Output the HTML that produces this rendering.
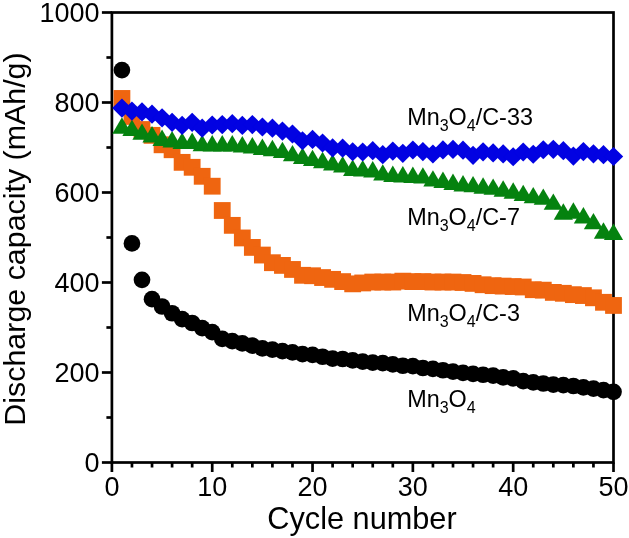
<!DOCTYPE html>
<html><head><meta charset="utf-8"><style>
html,body{margin:0;padding:0;background:#fff;}
svg{display:block;font-family:"Liberation Sans",sans-serif;will-change:transform;}
</style></head><body>
<svg width="629" height="538" viewBox="0 0 629 538">
<rect width="629" height="538" fill="#fff"/>
<g stroke-linecap="butt"><rect x="111.9" y="12.5" width="501.6" height="450.0" fill="none" stroke="#000" stroke-width="2.7"/><line x1="101.90" y1="462.50" x2="111.9" y2="462.50" stroke="#000" stroke-width="2.7"/><line x1="106.40" y1="417.50" x2="111.9" y2="417.50" stroke="#000" stroke-width="2.7"/><line x1="101.90" y1="372.50" x2="111.9" y2="372.50" stroke="#000" stroke-width="2.7"/><line x1="106.40" y1="327.50" x2="111.9" y2="327.50" stroke="#000" stroke-width="2.7"/><line x1="101.90" y1="282.50" x2="111.9" y2="282.50" stroke="#000" stroke-width="2.7"/><line x1="106.40" y1="237.50" x2="111.9" y2="237.50" stroke="#000" stroke-width="2.7"/><line x1="101.90" y1="192.50" x2="111.9" y2="192.50" stroke="#000" stroke-width="2.7"/><line x1="106.40" y1="147.50" x2="111.9" y2="147.50" stroke="#000" stroke-width="2.7"/><line x1="101.90" y1="102.50" x2="111.9" y2="102.50" stroke="#000" stroke-width="2.7"/><line x1="106.40" y1="57.50" x2="111.9" y2="57.50" stroke="#000" stroke-width="2.7"/><line x1="101.90" y1="12.50" x2="111.9" y2="12.50" stroke="#000" stroke-width="2.7"/><line x1="111.90" y1="462.5" x2="111.90" y2="472.00" stroke="#000" stroke-width="2.7"/><line x1="131.96" y1="462.5" x2="131.96" y2="467.50" stroke="#000" stroke-width="2.7"/><line x1="152.03" y1="462.5" x2="152.03" y2="467.50" stroke="#000" stroke-width="2.7"/><line x1="172.09" y1="462.5" x2="172.09" y2="467.50" stroke="#000" stroke-width="2.7"/><line x1="192.16" y1="462.5" x2="192.16" y2="467.50" stroke="#000" stroke-width="2.7"/><line x1="212.22" y1="462.5" x2="212.22" y2="472.00" stroke="#000" stroke-width="2.7"/><line x1="232.28" y1="462.5" x2="232.28" y2="467.50" stroke="#000" stroke-width="2.7"/><line x1="252.35" y1="462.5" x2="252.35" y2="467.50" stroke="#000" stroke-width="2.7"/><line x1="272.41" y1="462.5" x2="272.41" y2="467.50" stroke="#000" stroke-width="2.7"/><line x1="292.48" y1="462.5" x2="292.48" y2="467.50" stroke="#000" stroke-width="2.7"/><line x1="312.54" y1="462.5" x2="312.54" y2="472.00" stroke="#000" stroke-width="2.7"/><line x1="332.60" y1="462.5" x2="332.60" y2="467.50" stroke="#000" stroke-width="2.7"/><line x1="352.67" y1="462.5" x2="352.67" y2="467.50" stroke="#000" stroke-width="2.7"/><line x1="372.73" y1="462.5" x2="372.73" y2="467.50" stroke="#000" stroke-width="2.7"/><line x1="392.80" y1="462.5" x2="392.80" y2="467.50" stroke="#000" stroke-width="2.7"/><line x1="412.86" y1="462.5" x2="412.86" y2="472.00" stroke="#000" stroke-width="2.7"/><line x1="432.92" y1="462.5" x2="432.92" y2="467.50" stroke="#000" stroke-width="2.7"/><line x1="452.99" y1="462.5" x2="452.99" y2="467.50" stroke="#000" stroke-width="2.7"/><line x1="473.05" y1="462.5" x2="473.05" y2="467.50" stroke="#000" stroke-width="2.7"/><line x1="493.12" y1="462.5" x2="493.12" y2="467.50" stroke="#000" stroke-width="2.7"/><line x1="513.18" y1="462.5" x2="513.18" y2="472.00" stroke="#000" stroke-width="2.7"/><line x1="533.24" y1="462.5" x2="533.24" y2="467.50" stroke="#000" stroke-width="2.7"/><line x1="553.31" y1="462.5" x2="553.31" y2="467.50" stroke="#000" stroke-width="2.7"/><line x1="573.37" y1="462.5" x2="573.37" y2="467.50" stroke="#000" stroke-width="2.7"/><line x1="593.44" y1="462.5" x2="593.44" y2="467.50" stroke="#000" stroke-width="2.7"/><line x1="613.50" y1="462.5" x2="613.50" y2="472.00" stroke="#000" stroke-width="2.7"/></g>
<g fill="#000"><circle cx="121.93" cy="70.10" r="8.35"/><circle cx="131.96" cy="243.44" r="8.35"/><circle cx="142.00" cy="279.80" r="8.35"/><circle cx="152.03" cy="299.15" r="8.35"/><circle cx="162.06" cy="306.49" r="8.35"/><circle cx="172.09" cy="313.24" r="8.35"/><circle cx="182.12" cy="319.04" r="8.35"/><circle cx="192.16" cy="323.00" r="8.35"/><circle cx="202.19" cy="328.04" r="8.35"/><circle cx="212.22" cy="332.09" r="8.35"/><circle cx="222.25" cy="338.84" r="8.35"/><circle cx="232.28" cy="341.09" r="8.35"/><circle cx="242.32" cy="343.34" r="8.35"/><circle cx="252.35" cy="345.63" r="8.35"/><circle cx="262.38" cy="348.33" r="8.35"/><circle cx="272.41" cy="349.69" r="8.35"/><circle cx="282.44" cy="351.03" r="8.35"/><circle cx="292.48" cy="352.38" r="8.35"/><circle cx="302.51" cy="354.05" r="8.35"/><circle cx="312.54" cy="354.95" r="8.35"/><circle cx="322.57" cy="356.75" r="8.35"/><circle cx="332.60" cy="358.55" r="8.35"/><circle cx="342.64" cy="359.00" r="8.35"/><circle cx="352.67" cy="360.35" r="8.35"/><circle cx="362.70" cy="361.70" r="8.35"/><circle cx="372.73" cy="362.60" r="8.35"/><circle cx="382.76" cy="363.05" r="8.35"/><circle cx="392.80" cy="364.40" r="8.35"/><circle cx="402.83" cy="365.75" r="8.35"/><circle cx="412.86" cy="366.20" r="8.35"/><circle cx="422.89" cy="368.00" r="8.35"/><circle cx="432.92" cy="368.90" r="8.35"/><circle cx="442.96" cy="370.25" r="8.35"/><circle cx="452.99" cy="371.60" r="8.35"/><circle cx="463.02" cy="372.95" r="8.35"/><circle cx="473.05" cy="373.85" r="8.35"/><circle cx="483.08" cy="374.75" r="8.35"/><circle cx="493.12" cy="375.65" r="8.35"/><circle cx="503.15" cy="377.45" r="8.35"/><circle cx="513.18" cy="378.35" r="8.35"/><circle cx="523.21" cy="381.05" r="8.35"/><circle cx="533.24" cy="382.40" r="8.35"/><circle cx="543.28" cy="383.52" r="8.35"/><circle cx="553.31" cy="384.65" r="8.35"/><circle cx="563.34" cy="385.10" r="8.35"/><circle cx="573.37" cy="386.00" r="8.35"/><circle cx="583.40" cy="387.35" r="8.35"/><circle cx="593.44" cy="388.70" r="8.35"/><circle cx="603.47" cy="390.05" r="8.35"/><circle cx="613.50" cy="391.85" r="8.35"/></g>
<g fill="#EF6510"><rect x="113.53" y="90.05" width="16.8" height="16.8"/><rect x="123.56" y="108.05" width="16.8" height="16.8"/><rect x="133.60" y="121.10" width="16.8" height="16.8"/><rect x="143.63" y="126.95" width="16.8" height="16.8"/><rect x="153.66" y="136.40" width="16.8" height="16.8"/><rect x="163.69" y="141.35" width="16.8" height="16.8"/><rect x="173.72" y="153.95" width="16.8" height="16.8"/><rect x="183.76" y="158.90" width="16.8" height="16.8"/><rect x="193.79" y="167.90" width="16.8" height="16.8"/><rect x="203.82" y="177.80" width="16.8" height="16.8"/><rect x="213.85" y="202.10" width="16.8" height="16.8"/><rect x="223.88" y="216.95" width="16.8" height="16.8"/><rect x="233.92" y="229.55" width="16.8" height="16.8"/><rect x="243.95" y="239.00" width="16.8" height="16.8"/><rect x="253.98" y="246.65" width="16.8" height="16.8"/><rect x="264.01" y="254.30" width="16.8" height="16.8"/><rect x="274.04" y="257.00" width="16.8" height="16.8"/><rect x="284.08" y="261.05" width="16.8" height="16.8"/><rect x="294.11" y="266.90" width="16.8" height="16.8"/><rect x="304.14" y="267.35" width="16.8" height="16.8"/><rect x="314.17" y="269.15" width="16.8" height="16.8"/><rect x="324.20" y="270.95" width="16.8" height="16.8"/><rect x="334.24" y="273.20" width="16.8" height="16.8"/><rect x="344.27" y="275.45" width="16.8" height="16.8"/><rect x="354.30" y="274.55" width="16.8" height="16.8"/><rect x="364.33" y="273.65" width="16.8" height="16.8"/><rect x="374.36" y="273.65" width="16.8" height="16.8"/><rect x="384.40" y="273.65" width="16.8" height="16.8"/><rect x="394.43" y="272.75" width="16.8" height="16.8"/><rect x="404.46" y="273.20" width="16.8" height="16.8"/><rect x="414.49" y="273.20" width="16.8" height="16.8"/><rect x="424.52" y="273.65" width="16.8" height="16.8"/><rect x="434.56" y="273.65" width="16.8" height="16.8"/><rect x="444.59" y="273.65" width="16.8" height="16.8"/><rect x="454.62" y="274.10" width="16.8" height="16.8"/><rect x="464.65" y="275.00" width="16.8" height="16.8"/><rect x="474.68" y="276.35" width="16.8" height="16.8"/><rect x="484.72" y="277.25" width="16.8" height="16.8"/><rect x="494.75" y="277.70" width="16.8" height="16.8"/><rect x="504.78" y="278.15" width="16.8" height="16.8"/><rect x="514.81" y="278.60" width="16.8" height="16.8"/><rect x="524.84" y="281.30" width="16.8" height="16.8"/><rect x="534.88" y="281.75" width="16.8" height="16.8"/><rect x="544.91" y="284.00" width="16.8" height="16.8"/><rect x="554.94" y="284.90" width="16.8" height="16.8"/><rect x="564.97" y="286.25" width="16.8" height="16.8"/><rect x="575.00" y="287.15" width="16.8" height="16.8"/><rect x="585.04" y="289.40" width="16.8" height="16.8"/><rect x="595.07" y="293.90" width="16.8" height="16.8"/><rect x="605.10" y="297.05" width="16.8" height="16.8"/></g>
<g fill="#05820F"><path d="M121.93 117.30L131.53 133.70L112.33 133.70Z"/><path d="M131.96 119.70L141.56 136.10L122.36 136.10Z"/><path d="M142.00 123.40L151.60 139.80L132.40 139.80Z"/><path d="M152.03 126.00L161.63 142.40L142.43 142.40Z"/><path d="M162.06 129.60L171.66 146.00L152.46 146.00Z"/><path d="M172.09 131.10L181.69 147.50L162.49 147.50Z"/><path d="M182.12 132.60L191.72 149.00L172.52 149.00Z"/><path d="M192.16 132.60L201.76 149.00L182.56 149.00Z"/><path d="M202.19 134.80L211.79 151.20L192.59 151.20Z"/><path d="M212.22 135.10L221.82 151.50L202.62 151.50Z"/><path d="M222.25 135.00L231.85 151.40L212.65 151.40Z"/><path d="M232.28 135.00L241.88 151.40L222.68 151.40Z"/><path d="M242.32 136.00L251.92 152.40L232.72 152.40Z"/><path d="M252.35 137.00L261.95 153.40L242.75 153.40Z"/><path d="M262.38 138.50L271.98 154.90L252.78 154.90Z"/><path d="M272.41 139.80L282.01 156.20L262.81 156.20Z"/><path d="M282.44 141.70L292.04 158.10L272.84 158.10Z"/><path d="M292.48 144.90L302.08 161.30L282.88 161.30Z"/><path d="M302.51 147.50L312.11 163.90L292.91 163.90Z"/><path d="M312.54 149.70L322.14 166.10L302.94 166.10Z"/><path d="M322.57 151.80L332.17 168.20L312.97 168.20Z"/><path d="M332.60 154.00L342.20 170.40L323.00 170.40Z"/><path d="M342.64 156.10L352.24 172.50L333.04 172.50Z"/><path d="M352.67 159.60L362.27 176.00L343.07 176.00Z"/><path d="M362.70 160.10L372.30 176.50L353.10 176.50Z"/><path d="M372.73 161.10L382.33 177.50L363.13 177.50Z"/><path d="M382.76 164.20L392.36 180.60L373.16 180.60Z"/><path d="M392.80 165.60L402.40 182.00L383.20 182.00Z"/><path d="M402.83 166.00L412.43 182.40L393.23 182.40Z"/><path d="M412.86 166.60L422.46 183.00L403.26 183.00Z"/><path d="M422.89 167.20L432.49 183.60L413.29 183.60Z"/><path d="M432.92 170.20L442.52 186.60L423.32 186.60Z"/><path d="M442.96 171.60L452.56 188.00L433.36 188.00Z"/><path d="M452.99 173.50L462.59 189.90L443.39 189.90Z"/><path d="M463.02 175.00L472.62 191.40L453.42 191.40Z"/><path d="M473.05 175.90L482.65 192.30L463.45 192.30Z"/><path d="M483.08 177.30L492.68 193.70L473.48 193.70Z"/><path d="M493.12 178.40L502.72 194.80L483.52 194.80Z"/><path d="M503.15 180.30L512.75 196.70L493.55 196.70Z"/><path d="M513.18 182.30L522.78 198.70L503.58 198.70Z"/><path d="M523.21 184.70L532.81 201.10L513.61 201.10Z"/><path d="M533.24 186.90L542.84 203.30L523.64 203.30Z"/><path d="M543.28 188.40L552.88 204.80L533.68 204.80Z"/><path d="M553.31 193.40L562.91 209.80L543.71 209.80Z"/><path d="M563.34 203.30L572.94 219.70L553.74 219.70Z"/><path d="M573.37 202.30L582.97 218.70L563.77 218.70Z"/><path d="M583.40 207.00L593.00 223.40L573.80 223.40Z"/><path d="M593.44 212.90L603.04 229.30L583.84 229.30Z"/><path d="M603.47 222.30L613.07 238.70L593.87 238.70Z"/><path d="M613.50 223.60L623.10 240.00L603.90 240.00Z"/></g>
<g fill="#0202E2"><path d="M121.93 98.44L131.63 108.04L121.93 117.64L112.23 108.04Z"/><path d="M131.96 101.45L141.66 111.05L131.96 120.65L122.26 111.05Z"/><path d="M142.00 102.35L151.70 111.95L142.00 121.55L132.30 111.95Z"/><path d="M152.03 104.60L161.73 114.20L152.03 123.80L142.33 114.20Z"/><path d="M162.06 108.20L171.76 117.80L162.06 127.40L152.36 117.80Z"/><path d="M172.09 112.70L181.79 122.30L172.09 131.90L162.39 122.30Z"/><path d="M182.12 115.85L191.82 125.45L182.12 135.05L172.42 125.45Z"/><path d="M192.16 112.70L201.86 122.30L192.16 131.90L182.46 122.30Z"/><path d="M202.19 118.55L211.89 128.15L202.19 137.75L192.49 128.15Z"/><path d="M212.22 115.40L221.92 125.00L212.22 134.60L202.52 125.00Z"/><path d="M222.25 114.95L231.95 124.55L222.25 134.15L212.55 124.55Z"/><path d="M232.28 114.05L241.98 123.65L232.28 133.25L222.58 123.65Z"/><path d="M242.32 115.85L252.02 125.45L242.32 135.05L232.62 125.45Z"/><path d="M252.35 114.95L262.05 124.55L252.35 134.15L242.65 124.55Z"/><path d="M262.38 117.42L272.08 127.02L262.38 136.62L252.68 127.02Z"/><path d="M272.41 118.55L282.11 128.15L272.41 137.75L262.71 128.15Z"/><path d="M282.44 121.47L292.14 131.07L282.44 140.67L272.74 131.07Z"/><path d="M292.48 124.40L302.18 134.00L292.48 143.60L282.78 134.00Z"/><path d="M302.51 131.15L312.21 140.75L302.51 150.35L292.81 140.75Z"/><path d="M312.54 129.80L322.24 139.40L312.54 149.00L302.84 139.40Z"/><path d="M322.57 133.40L332.27 143.00L322.57 152.60L312.87 143.00Z"/><path d="M332.60 138.35L342.30 147.95L332.60 157.55L322.90 147.95Z"/><path d="M342.64 138.53L352.34 148.13L342.64 157.73L332.94 148.13Z"/><path d="M352.67 142.13L362.37 151.73L352.67 161.33L342.97 151.73Z"/><path d="M362.70 142.40L372.40 152.00L362.70 161.60L353.00 152.00Z"/><path d="M372.73 141.05L382.43 150.65L372.73 160.25L363.03 150.65Z"/><path d="M382.76 145.10L392.46 154.70L382.76 164.30L373.06 154.70Z"/><path d="M392.80 141.50L402.50 151.10L392.80 160.70L383.10 151.10Z"/><path d="M402.83 143.75L412.53 153.35L402.83 162.95L393.13 153.35Z"/><path d="M412.86 140.42L422.56 150.02L412.86 159.62L403.16 150.02Z"/><path d="M422.89 141.95L432.59 151.55L422.89 161.15L413.19 151.55Z"/><path d="M432.92 144.38L442.62 153.98L432.92 163.58L423.22 153.98Z"/><path d="M442.96 140.28L452.66 149.88L442.96 159.48L433.26 149.88Z"/><path d="M452.99 139.79L462.69 149.39L452.99 158.99L443.29 149.39Z"/><path d="M463.02 140.60L472.72 150.20L463.02 159.80L453.32 150.20Z"/><path d="M473.05 145.69L482.75 155.29L473.05 164.89L463.35 155.29Z"/><path d="M483.08 142.22L492.78 151.82L483.08 161.42L473.38 151.82Z"/><path d="M493.12 143.30L502.82 152.90L493.12 162.50L483.42 152.90Z"/><path d="M503.15 144.29L512.85 153.89L503.15 163.49L493.45 153.89Z"/><path d="M513.18 147.13L522.88 156.73L513.18 166.33L503.48 156.73Z"/><path d="M523.21 142.40L532.91 152.00L523.21 161.60L513.51 152.00Z"/><path d="M533.24 144.65L542.94 154.25L533.24 163.85L523.54 154.25Z"/><path d="M543.28 140.15L552.98 149.75L543.28 159.35L533.58 149.75Z"/><path d="M553.31 139.70L563.01 149.30L553.31 158.90L543.61 149.30Z"/><path d="M563.34 141.05L573.04 150.65L563.34 160.25L553.64 150.65Z"/><path d="M573.37 146.45L583.07 156.05L573.37 165.65L563.67 156.05Z"/><path d="M583.40 141.95L593.10 151.55L583.40 161.15L573.70 151.55Z"/><path d="M593.44 144.20L603.14 153.80L593.44 163.40L583.74 153.80Z"/><path d="M603.47 145.10L613.17 154.70L603.47 164.30L593.77 154.70Z"/><path d="M613.50 146.90L623.20 156.50L613.50 166.10L603.80 156.50Z"/></g>
<g font-size="27"><text x="99.5" y="471.50" text-anchor="end">0</text><text x="99.5" y="381.50" text-anchor="end">200</text><text x="99.5" y="291.50" text-anchor="end">400</text><text x="99.5" y="201.50" text-anchor="end">600</text><text x="99.5" y="111.50" text-anchor="end">800</text><text x="99.5" y="21.50" text-anchor="end">1000</text><text x="111.90" y="496" text-anchor="middle">0</text><text x="212.22" y="496" text-anchor="middle">10</text><text x="312.54" y="496" text-anchor="middle">20</text><text x="412.86" y="496" text-anchor="middle">30</text><text x="513.18" y="496" text-anchor="middle">40</text><text x="613.50" y="496" text-anchor="middle">50</text></g>
<text x="407.2" y="124.7" font-size="23.4">Mn<tspan font-size="16" dy="6.3">3</tspan><tspan dy="-6.3">O</tspan><tspan font-size="16" dy="6.3">4</tspan><tspan dy="-6.3">/C-33</tspan></text><text x="407.2" y="224.8" font-size="23.4">Mn<tspan font-size="16" dy="6.3">3</tspan><tspan dy="-6.3">O</tspan><tspan font-size="16" dy="6.3">4</tspan><tspan dy="-6.3">/C-7</tspan></text><text x="407.2" y="320.8" font-size="23.4">Mn<tspan font-size="16" dy="6.3">3</tspan><tspan dy="-6.3">O</tspan><tspan font-size="16" dy="6.3">4</tspan><tspan dy="-6.3">/C-3</tspan></text><text x="407.2" y="407.0" font-size="23.4">Mn<tspan font-size="16" dy="6.3">3</tspan><tspan dy="-6.3">O</tspan><tspan font-size="16" dy="6.3">4</tspan><tspan dy="-6.3"></tspan></text>
<text x="362" y="528.5" font-size="30.7" text-anchor="middle">Cycle number</text><text transform="translate(25.0 239) rotate(-90)" font-size="30.4" text-anchor="middle">Discharge capacity (mAh/g)</text>
</svg>
</body></html>
